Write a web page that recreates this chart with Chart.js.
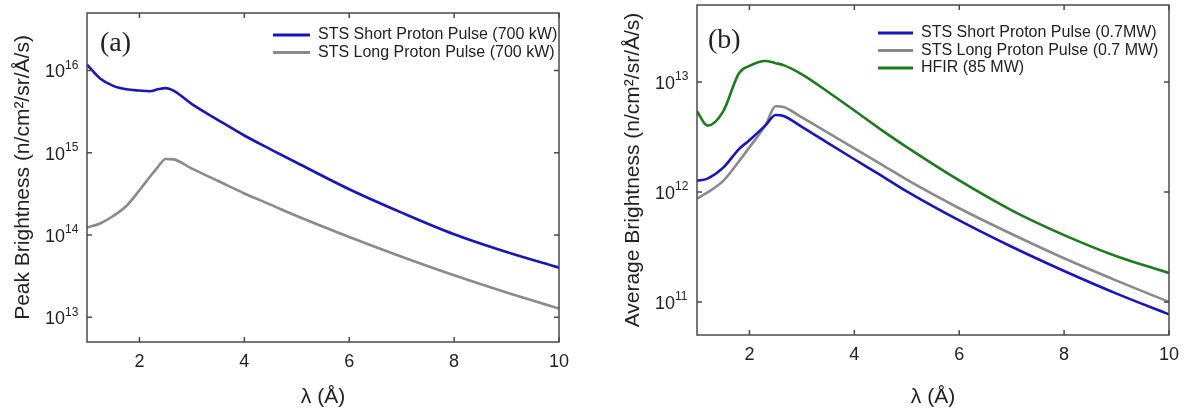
<!DOCTYPE html>
<html>
<head>
<meta charset="utf-8">
<script src="https://cdn.jsdelivr.net/npm/chart.js@4.4.1/dist/chart.umd.min.js"></script>
<style>
  body { margin: 0; background: #fff; width: 1182px; height: 409px; overflow: hidden; position: relative; }
  canvas { position: absolute; top: 0; }
</style>
</head>
<body>
<canvas id="chartA" width="591" height="409" style="left:0"></canvas>
<canvas id="chartB" width="591" height="409" style="left:591px"></canvas>
<script>
// --- panel (a): peak brightness ---
const lambdaA = [1, 1.25, 1.5, 1.75, 2, 2.2, 2.35, 2.5, 2.65, 3, 3.5, 4, 4.5, 5, 6, 7, 8, 9, 10];
const peakShort = [1.18e16, 8.0e15, 6.5e15, 5.9e15, 5.7e15, 5.6e15, 5.9e15, 6.1e15, 5.7e15, 3.9e15, 2.5e15, 1.62e15, 1.1e15, 7.55e14, 3.6e14, 1.87e14, 1.02e14, 6.2e13, 4.0e13];
const peakLong = [1.23e14, 1.38e14, 1.7e14, 2.25e14, 3.5e14, 5.1e14, 6.7e14, 8.4e14, 8.3e14, 6.4e14, 4.53e14, 3.2e14, 2.34e14, 1.7e14, 9.46e13, 5.45e13, 3.24e13, 2.0e13, 1.28e13];

// --- panel (b): average brightness ---
const lambdaB = [1, 1.2, 1.5, 1.8, 2, 2.3, 2.5, 2.65, 3, 3.5, 4, 4.5, 5, 6, 7, 8, 9, 10];
const avgShort = [1.26e12, 1.32e12, 1.66e12, 2.45e12, 2.95e12, 4.0e12, 5.0e12, 4.9e12, 3.9e12, 2.77e12, 1.98e12, 1.42e12, 1.01e12, 5.5e11, 3.17e11, 1.91e11, 1.19e11, 7.7e10];
const avgLong = [8.7e11, 9.9e11, 1.26e12, 1.9e12, 2.54e12, 4.0e12, 6.0e12, 5.9e12, 4.75e12, 3.44e12, 2.49e12, 1.8e12, 1.29e12, 7.1e11, 4.14e11, 2.49e11, 1.56e11, 1.0e11];
const avgHfir = [5.4e12, 4.0e12, 5.4e12, 1.2e13, 1.4e13, 1.55e13, 1.48e13, 1.42e13, 1.17e13, 8.1e12, 5.5e12, 3.7e12, 2.55e12, 1.27e12, 6.8e11, 4.05e11, 2.6e11, 1.83e11];

const xTicks = [2, 4, 6, 8, 10];
const yExpsA = [13, 14, 15, 16];
const yExpsB = [11, 12, 13];

const BLUE = '#1616bc';
const GRAY = '#8a8a8a';
const GREEN = '#1d7a1d';
const SANS = '"Liberation Sans", Arial, sans-serif';
const SERIF = '"Liberation Serif", "Times New Roman", serif';

const toPoints = (xs, ys) => xs.map((x, i) => ({ x: x, y: ys[i] }));

// frame, inward ticks, labels, titles and legend drawn from the chart's own scales
const framePlugin = {
    id: 'frame',
    afterDatasetsDraw(chart, args, opts) {
        const { ctx, chartArea: a, scales: { x, y } } = chart;
        ctx.save();
        ctx.strokeStyle = '#4a4a4a';
        ctx.lineWidth = 1.5;
        ctx.strokeRect(a.left, a.top, a.right - a.left, a.bottom - a.top);

        ctx.beginPath();
        xTicks.forEach(v => {
            const px = x.getPixelForValue(v);
            ctx.moveTo(px, a.bottom); ctx.lineTo(px, a.bottom - 5);
            ctx.moveTo(px, a.top); ctx.lineTo(px, a.top + 5);
        });
        opts.yExps.forEach(e => {
            const py = y.getPixelForValue(Math.pow(10, e));
            ctx.moveTo(a.left, py); ctx.lineTo(a.left + 5, py);
            ctx.moveTo(a.right, py); ctx.lineTo(a.right - 5, py);
        });
        ctx.stroke();

        ctx.fillStyle = '#222';
        ctx.textBaseline = 'middle';
        ctx.textAlign = 'center';
        ctx.font = '18px ' + SANS;
        xTicks.forEach(v => ctx.fillText(String(v), x.getPixelForValue(v), a.bottom + 20));

        ctx.textAlign = 'left';
        opts.yExps.forEach(e => {
            const py = y.getPixelForValue(Math.pow(10, e));
            const lx = a.left - 42;
            ctx.font = '18px ' + SANS;
            ctx.fillText('10', lx, py + 2);
            const w = ctx.measureText('10').width;
            ctx.font = '12px ' + SANS;
            ctx.fillText(String(e), lx + w, py - 5);
        });

        // axis titles
        ctx.textAlign = 'center';
        ctx.font = '21px ' + SANS;
        ctx.fillText('\u03bb (\u00c5)', (a.left + a.right) / 2, 397);
        ctx.save();
        ctx.translate(opts.yTitleX, (a.top + a.bottom) / 2);
        ctx.rotate(-Math.PI / 2);
        ctx.fillText(opts.yTitle, 0, 0);
        ctx.restore();

        // panel label
        ctx.textAlign = 'left';
        ctx.font = '28px ' + SERIF;
        ctx.fillText(opts.panel, opts.panelX, opts.panelY);

        // legend
        ctx.font = '16px ' + SANS;
        chart.data.datasets.forEach((ds, i) => {
            const ly = opts.legY + i * opts.legStep;
            ctx.strokeStyle = ds.borderColor;
            ctx.lineWidth = 3;
            ctx.beginPath();
            ctx.moveTo(opts.legX, ly);
            ctx.lineTo(opts.legX + opts.legLen, ly);
            ctx.stroke();
            ctx.fillStyle = '#222';
            ctx.fillText(ds.label, opts.legX + opts.legLen + 8, ly);
        });
        ctx.restore();
    }
};

function makeChart(id, datasets, yMin, yMax, padding, frameOpts) {
    return new Chart(document.getElementById(id), {
        type: 'line',
        data: { datasets: datasets },
        options: {
            responsive: false,
            animation: false,
            layout: { padding: padding },
            elements: {
                point: { radius: 0 },
                line: { borderWidth: 2.6, cubicInterpolationMode: 'monotone' }
            },
            scales: {
                x: { type: 'linear', min: 1, max: 10, display: false },
                y: { type: 'logarithmic', min: yMin, max: yMax, display: false }
            },
            plugins: {
                legend: { display: false },
                tooltip: { enabled: false },
                frame: frameOpts
            }
        },
        plugins: [framePlugin]
    });
}

makeChart('chartA', [
    { label: 'STS Short Proton Pulse (700 kW)', data: toPoints(lambdaA, peakShort), borderColor: BLUE },
    { label: 'STS Long Proton Pulse (700 kW)', data: toPoints(lambdaA, peakLong), borderColor: GRAY }
], 5e12, 5e16, { left: 87, right: 32, top: 13, bottom: 67 }, {
    yExps: yExpsA,
    yTitle: 'Peak Brightness (n/cm\u00b2/sr/\u00c5/s)',
    yTitleX: 23,
    panel: '(a)', panelX: 100, panelY: 44,
    legX: 273, legY: 35, legStep: 17.5, legLen: 37
});

makeChart('chartB', [
    { label: 'STS Short Proton Pulse (0.7MW)', data: toPoints(lambdaB, avgShort), borderColor: BLUE },
    { label: 'STS Long Proton Pulse (0.7 MW)', data: toPoints(lambdaB, avgLong), borderColor: GRAY },
    { label: 'HFIR (85 MW)', data: toPoints(lambdaB, avgHfir), borderColor: GREEN }
], 5e10, 5e13, { left: 106, right: 13, top: 5, bottom: 74 }, {
    yExps: yExpsB,
    yTitle: 'Average Brightness (n/cm\u00b2/sr/\u00c5/s)',
    yTitleX: 42,
    panel: '(b)', panelX: 117, panelY: 41,
    legX: 287, legY: 33, legStep: 17.5, legLen: 35
});
</script>
</body>
</html>
